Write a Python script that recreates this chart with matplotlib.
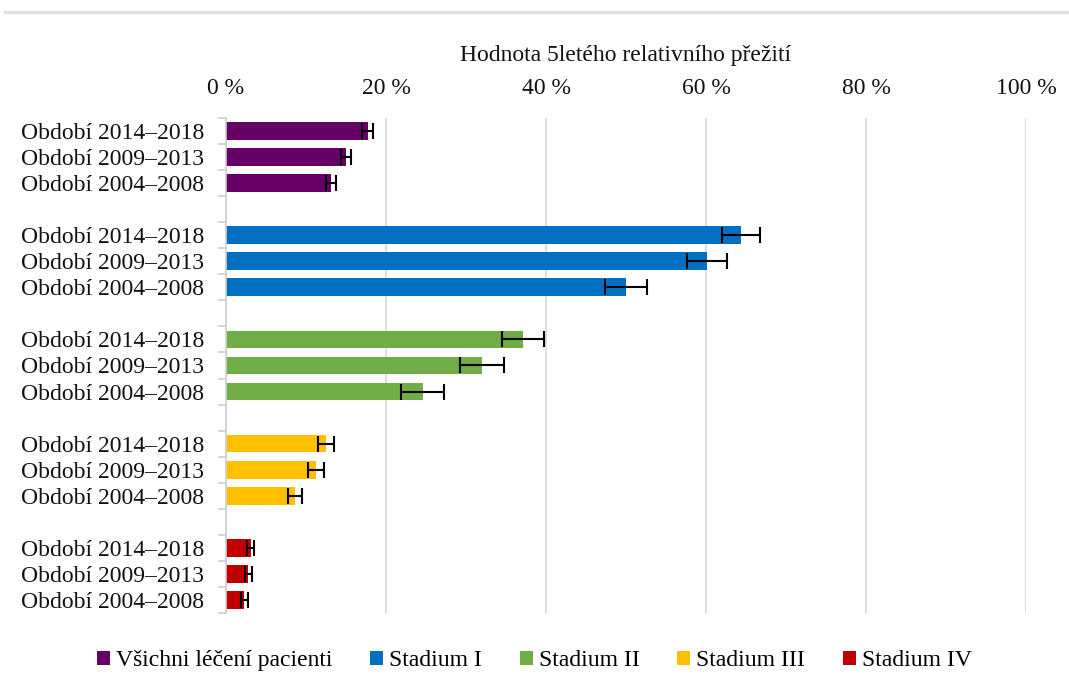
import matplotlib.pyplot as plt
from matplotlib.patches import Patch
from matplotlib.ticker import FuncFormatter

# data
periods = ["Období 2014–2018", "Období 2009–2013", "Období 2004–2008"]
groups = ["Všichni léčení pacienti", "Stadium I", "Stadium II", "Stadium III", "Stadium IV"]
colors = ["#660066", "#0070C0", "#70AD47", "#FFC000", "#C00000"]
values = [
    [17.7, 15.0, 13.1],
    [64.4, 60.1, 50.0],
    [37.1, 32.0, 24.6],
    [12.5, 11.3, 8.6],
    [3.1, 2.8, 2.3],
]
errors = [
    [0.65, 0.65, 0.65],
    [2.4, 2.5, 2.6],
    [2.65, 2.7, 2.7],
    [1.05, 1.0, 0.9],
    [0.45, 0.45, 0.4],
]

plt.rcParams["font.family"] = ["Liberation Serif", "DejaVu Serif"]

fig = plt.figure(figsize=(10.69, 6.81), dpi=100)
ax = fig.add_axes([0.2114, 0.0999, 0.7484, 0.7268])

ypos, ylabels = [], []
for g, (vals, errs, col) in enumerate(zip(values, errors, colors)):
    ys = [g * 4 + i for i in range(len(vals))]
    ax.barh(ys, vals, height=0.68, color=col, zorder=2)
    ax.errorbar(vals, ys, xerr=errs, fmt="none", ecolor="black",
                elinewidth=1.5, capsize=6, capthick=1.5, zorder=3)
    ypos += ys
    ylabels += periods

ax.set_ylim(18.5, -0.5)
ax.set_xlim(0, 100)
ax.set_yticks(ypos)
ax.set_yticklabels(ylabels, fontsize=17, color="#111111")
ax.set_yticks([i - 0.5 for i in range(20)], minor=True)
ax.tick_params(axis="y", which="major", length=0, pad=16)
ax.tick_params(axis="y", which="minor", length=6, color="#cfcfcf", width=1.2)

ax.xaxis.tick_top()
ax.xaxis.set_label_position("top")
ax.set_xticks([0, 20, 40, 60, 80, 100])
ax.xaxis.set_major_formatter(FuncFormatter(lambda v, p: f"{int(v)} %"))
ax.tick_params(axis="x", length=0, labelsize=17, pad=14, labelcolor="#111111")
ax.set_xlabel("Hodnota 5letého relativního přežití", fontsize=17,
              labelpad=12, color="#111111")

ax.grid(axis="x", color="#d9d9d9", linewidth=1.2, zorder=0)
for s in ["top", "right", "bottom"]:
    ax.spines[s].set_visible(False)
ax.spines["left"].set_color("#cfcfcf")
ax.spines["left"].set_linewidth(1.2)

handles = [Patch(facecolor=c, edgecolor="none") for c in colors]
fig.legend(handles, groups, loc="center", bbox_to_anchor=(0.5, 0.03), ncol=5,
           frameon=False, fontsize=17, handlelength=0.55, handleheight=0.55,
           handletextpad=0.25, columnspacing=1.6)

# thin gray rule at the top of the page
fig.add_artist(plt.Line2D([0.005, 1.0], [0.982, 0.982], color="#e0e0e0", linewidth=2.5))

fig.savefig("out.png", dpi=100)
